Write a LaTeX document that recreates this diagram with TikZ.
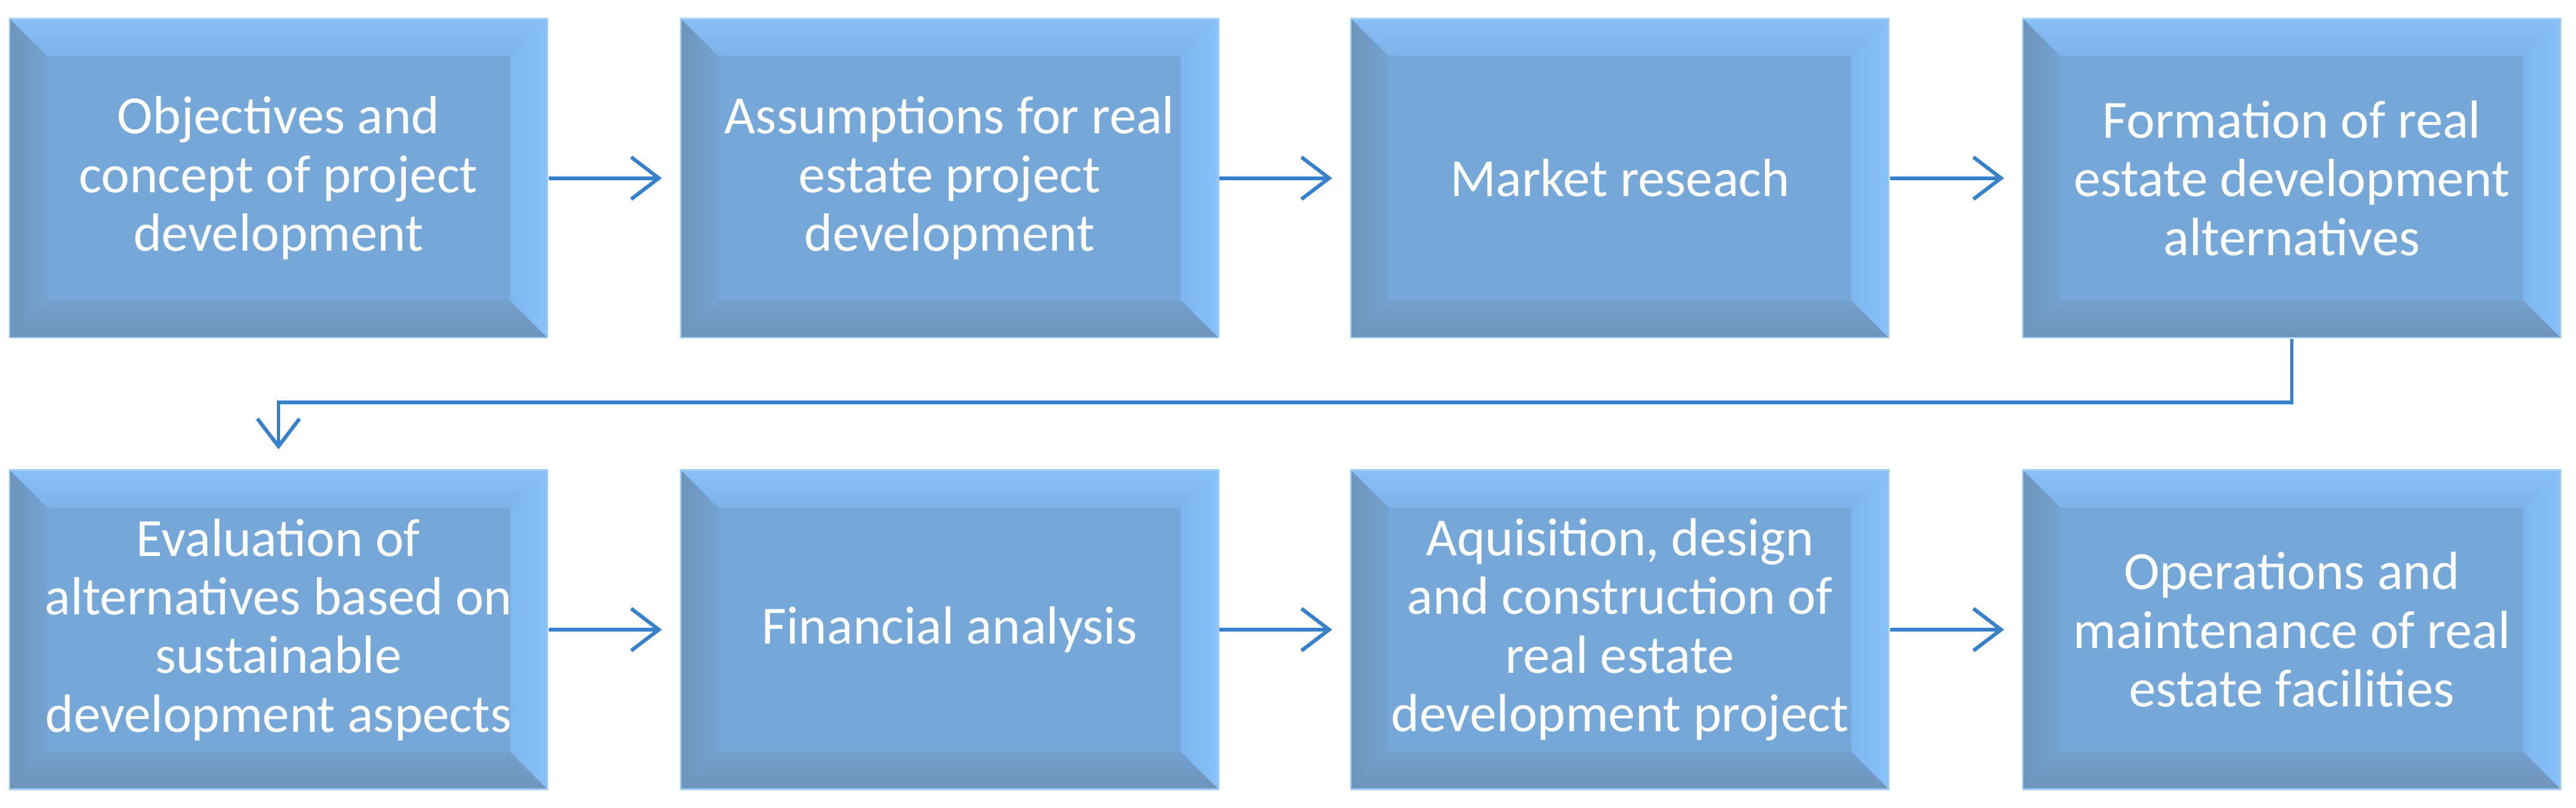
\documentclass[tikz,border=0pt]{standalone}
\usepackage{fontspec}
\setmainfont{Carlito}
\usetikzlibrary{arrows.meta,calc}
\definecolor{facecol}{RGB}{117,167,216}
\definecolor{toplt}{RGB}{136,192,248}
\definecolor{topdk}{RGB}{124,178,232}
\definecolor{leftdk}{RGB}{110,148,186}
\definecolor{leftlt}{RGB}{116,162,208}
\definecolor{botdk}{RGB}{111,148,186}
\definecolor{botlt}{RGB}{116,160,205}
\definecolor{rightlt}{RGB}{136,194,250}
\definecolor{rightdk}{RGB}{126,182,238}
\definecolor{edgecol}{RGB}{160,205,245}
\definecolor{arrowcol}{RGB}{55,128,204}
\newcommand{\bv}{0.58cm}
\newcommand{\boxfont}{\fontsize{23.3}{25.4}\selectfont}
\tikzset{
  bevelbox/.style={minimum width=8.2cm, minimum height=4.875cm, inner sep=0pt,
    text=white, align=center, font=\boxfont,
    path picture={
      \coordinate (NW) at (path picture bounding box.north west);
      \coordinate (NE) at (path picture bounding box.north east);
      \coordinate (SW) at (path picture bounding box.south west);
      \coordinate (SE) at (path picture bounding box.south east);
      \fill[facecol] (SW) rectangle (NE);
      \shade[top color=toplt, bottom color=topdk]
        (NW) -- (NE) -- ([shift={(-\bv,-\bv)}]NE) -- ([shift={(\bv,-\bv)}]NW) -- cycle;
      \shade[left color=leftdk, right color=leftlt]
        (NW) -- ([shift={(\bv,-\bv)}]NW) -- ([shift={(\bv,\bv)}]SW) -- (SW) -- cycle;
      \shade[top color=botlt, bottom color=botdk]
        (SW) -- ([shift={(\bv,\bv)}]SW) -- ([shift={(-\bv,\bv)}]SE) -- (SE) -- cycle;
      \shade[left color=rightdk, right color=rightlt]
        (NE) -- (SE) -- ([shift={(-\bv,\bv)}]SE) -- ([shift={(-\bv,-\bv)}]NE) -- cycle;
      \draw[edgecol, line width=1.2pt] (SW) rectangle (NE);
    }},
  flowarrow/.style={draw=arrowcol, line width=1.6pt,
    -{Straight Barb[length=0.42cm, width=0.64cm, line width=1.6pt]}}
}
\begin{document}
\begin{tikzpicture}[x=0.025cm, y=-0.025cm]
\useasboundingbox (0,0) rectangle (1568,492);
\node[bevelbox] (b1) at (169.5,108.5) {Objectives and\\concept of project\\development};
\node[bevelbox] (b2) at (578,108.5) {Assumptions for real\\estate project\\development};
\node[bevelbox] (b3) at (986,108.5) {Market reseach};
\node[bevelbox] (b4) at (1395,108.5) {Formation of real\\estate development\\alternatives};
\node[bevelbox] (b5) at (169.5,383.5) {Evaluation of\\alternatives based on\\sustainable\\development aspects};
\node[bevelbox] (b6) at (578,383.5) {Financial analysis};
\node[bevelbox] (b7) at (986,383.5) {Aquisition, design\\and construction of\\real estate\\development project};
\node[bevelbox] (b8) at (1395,383.5) {Operations and\\maintenance of real\\estate facilities};
\coordinate (turn) at (1395,245);
\draw[flowarrow, shorten >=0.27cm] (b1) -- (b2);
\draw[flowarrow, shorten >=0.27cm] (b2) -- (b3);
\draw[flowarrow, shorten >=0.27cm] (b3) -- (b4);
\draw[flowarrow, shorten >=0.3cm] (b4.south) -- (turn) -| (b5.north);
\draw[flowarrow, shorten >=0.27cm] (b5) -- (b6);
\draw[flowarrow, shorten >=0.27cm] (b6) -- (b7);
\draw[flowarrow, shorten >=0.27cm] (b7) -- (b8);
\end{tikzpicture}
\end{document}
